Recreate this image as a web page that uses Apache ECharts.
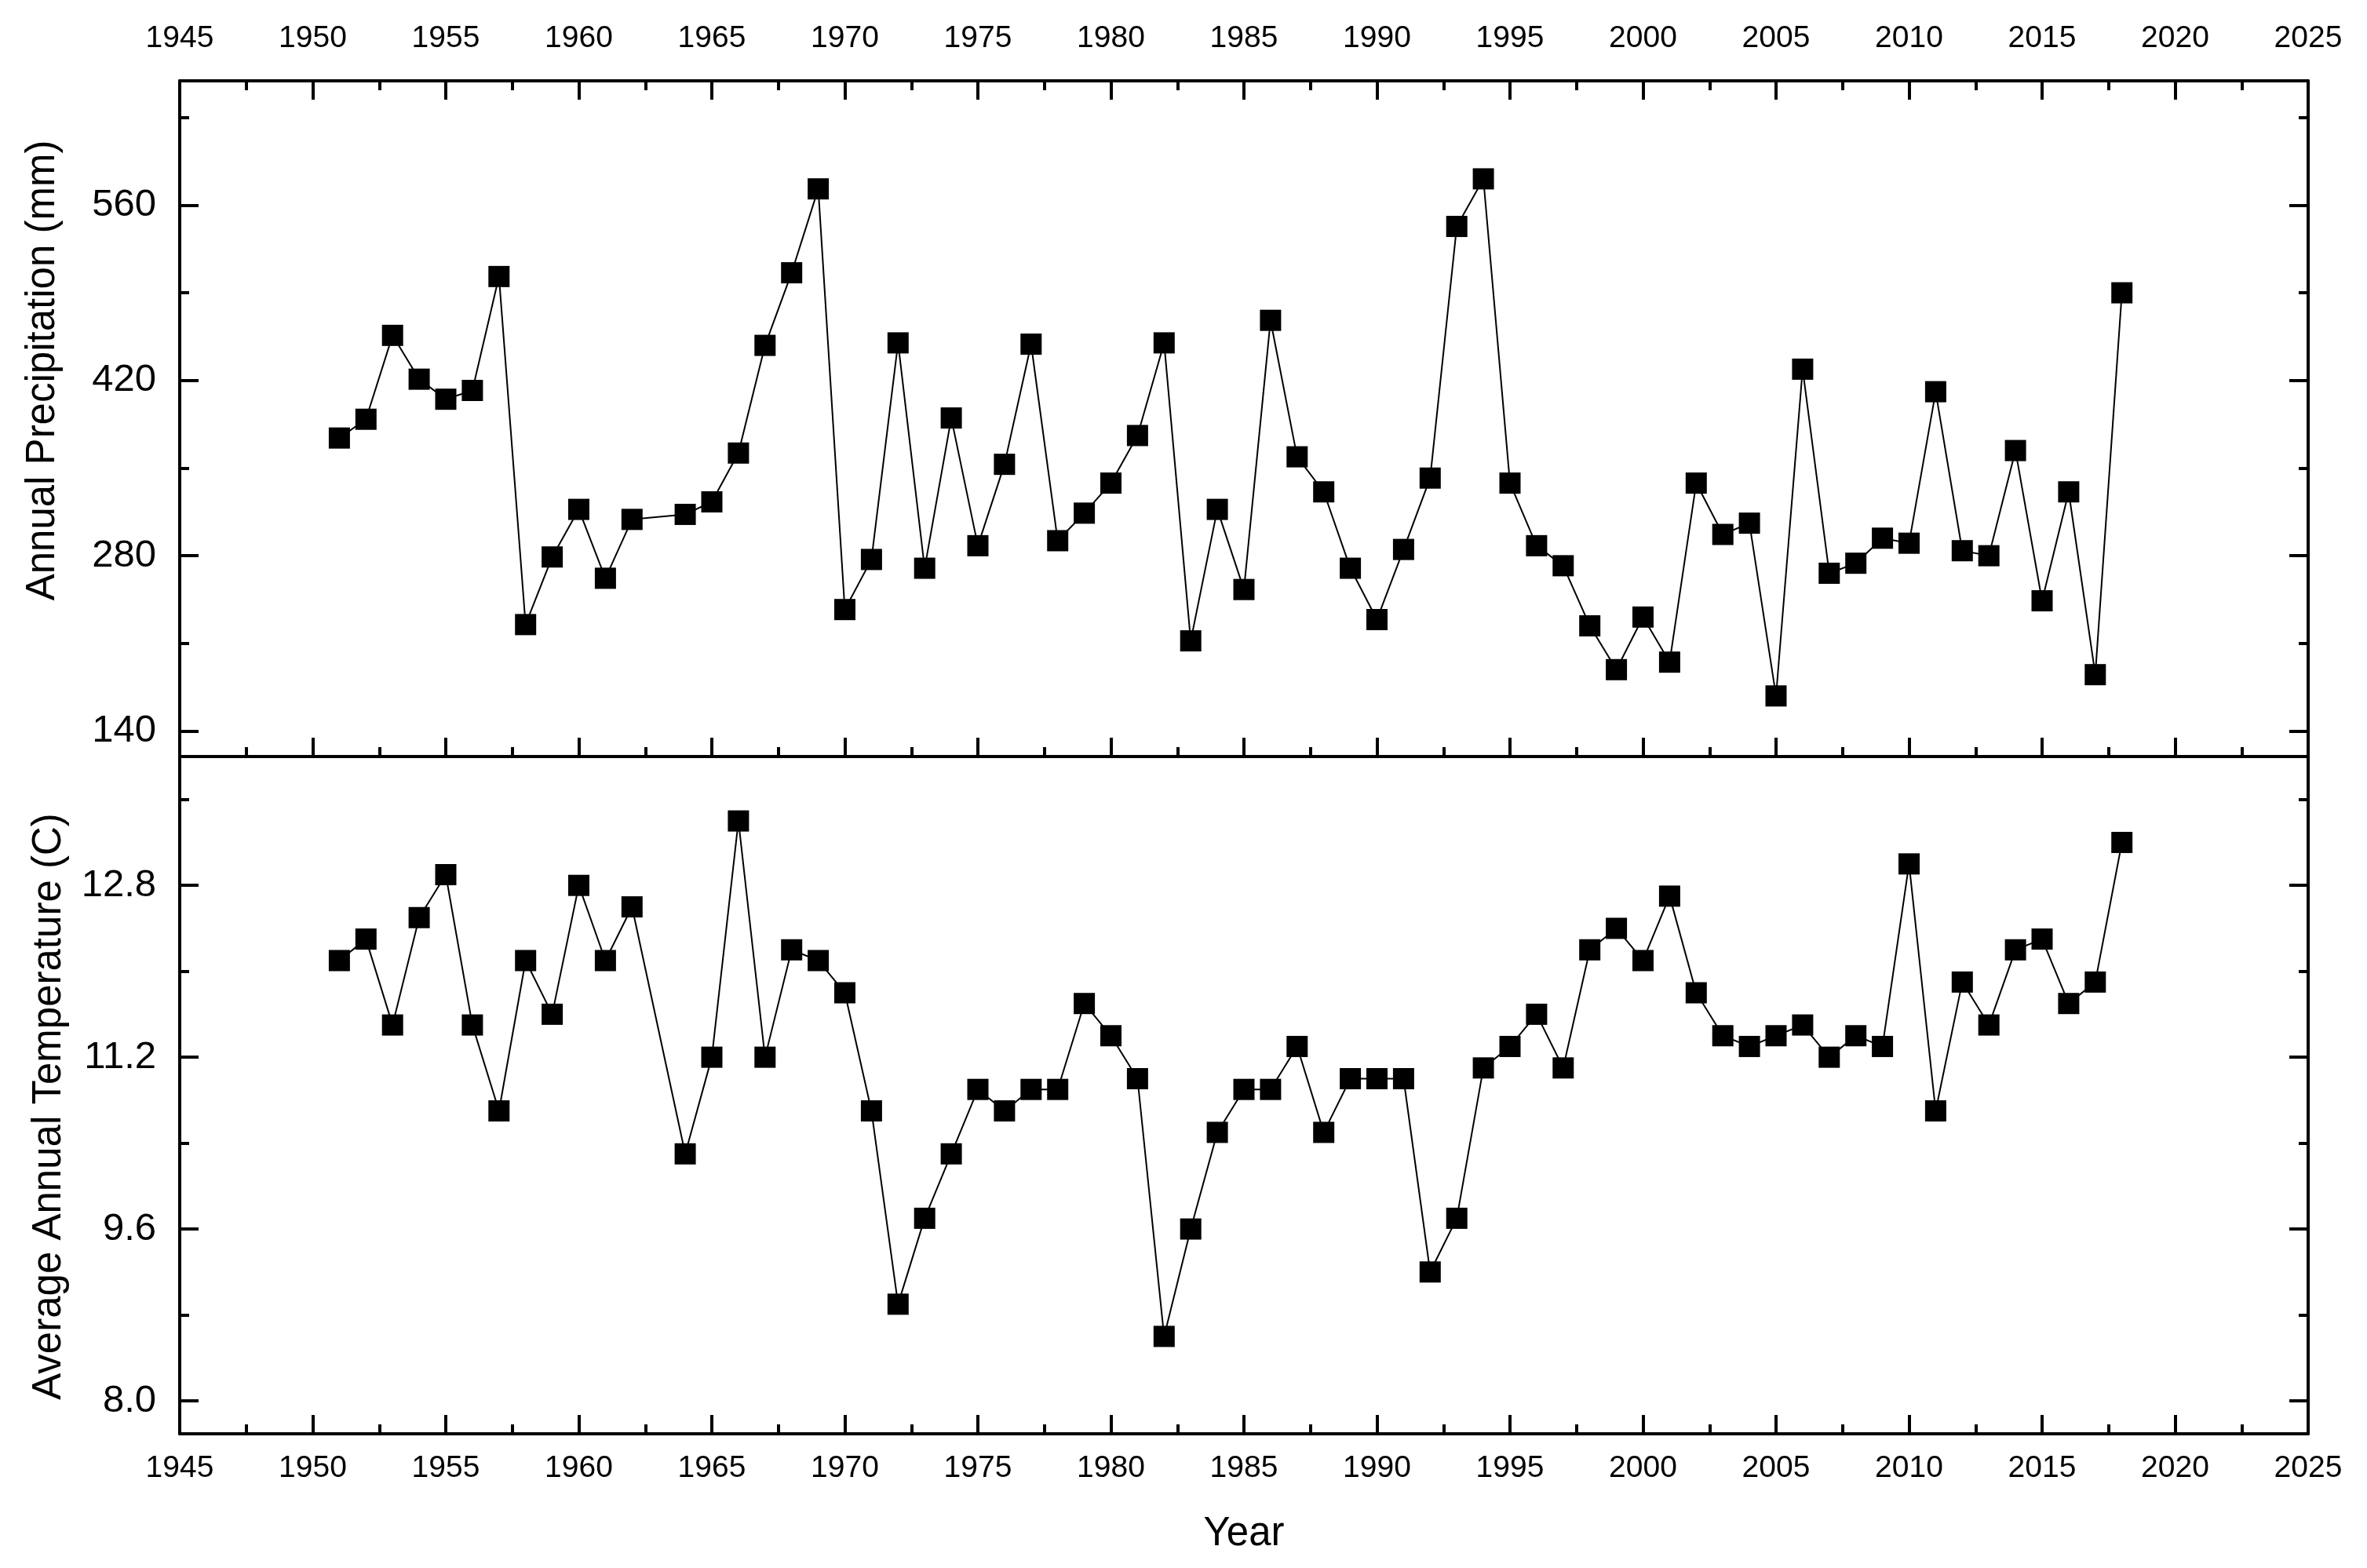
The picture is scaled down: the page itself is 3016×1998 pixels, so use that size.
<!DOCTYPE html>
<html>
<head>
<meta charset="utf-8">
<script src="https://cdn.jsdelivr.net/npm/echarts@6/dist/echarts.min.js"></script>
<style>
  html, body { margin: 0; padding: 0; background: #fff; }
  #chart { width: 3016px; height: 1998px; }
</style>
</head>
<body>
<div id="chart"></div>
<script>
// --- data (1963 has no record in either panel) ---
const years = [
  1951, 1952, 1953, 1954, 1955, 1956, 1957, 1958, 1959, 1960, 1961, 1962,
  1964, 1965, 1966, 1967, 1968, 1969, 1970, 1971, 1972, 1973, 1974, 1975,
  1976, 1977, 1978, 1979, 1980, 1981, 1982, 1983, 1984, 1985, 1986, 1987,
  1988, 1989, 1990, 1991, 1992, 1993, 1994, 1995, 1996, 1997, 1998, 1999,
  2000, 2001, 2002, 2003, 2004, 2005, 2006, 2007, 2008, 2009, 2010, 2011,
  2012, 2013, 2014, 2015, 2016, 2017, 2018
];
const precipitation = [
  374, 389, 456, 421, 405, 412, 503, 225, 279, 317, 262, 309,
  313, 323, 362, 448, 506, 573, 237, 277, 450, 270, 390, 288,
  353, 449, 292, 314, 338, 376, 450, 212, 317, 253, 468, 359,
  331, 270, 229, 285, 342, 543, 581, 338, 288, 272, 224, 189,
  231, 195, 338, 297, 306, 168, 429, 266, 274, 294, 290, 411,
  284, 280, 364, 244, 331, 185, 490
];
const temperature = [
  12.1, 12.3, 11.5, 12.5, 12.9, 11.5, 10.7, 12.1, 11.6, 12.8, 12.1, 12.6,
  10.3, 11.2, 13.4, 11.2, 12.2, 12.1, 11.8, 10.7, 8.9, 9.7, 10.3, 10.9,
  10.7, 10.9, 10.9, 11.7, 11.4, 11.0, 8.6, 9.6, 10.5, 10.9, 10.9, 11.3,
  10.5, 11.0, 11.0, 11.0, 9.2, 9.7, 11.1, 11.3, 11.6, 11.1, 12.2, 12.4,
  12.1, 12.7, 11.8, 11.4, 11.3, 11.4, 11.5, 11.2, 11.4, 11.3, 13.0, 10.7,
  11.9, 11.5, 12.2, 12.3, 11.7, 11.9, 13.2
];

// tick values
const precipMajor = [140, 280, 420, 560];
const precipMinor = [210, 350, 490, 630];
const tempMajor = [8.0, 9.6, 11.2, 12.8];
const tempMinor = [8.8, 10.4, 12.0, 13.6];

const FONT = "Liberation Sans";
const chart = echarts.init(document.getElementById("chart"));

// x axis helper (year axis, ticks inside, minor at half step)
function yearAxis(grid, pos, labels, extra) {
  return Object.assign({
    type: "value",
    gridIndex: grid,
    position: pos,
    min: 1945,
    max: 2025,
    interval: 5,
    axisLine: { show: true, onZero: false, lineStyle: { color: "#000", width: 4 } },
    axisTick: { show: true, inside: true, length: 24, lineStyle: { color: "#000", width: 4 } },
    minorTick: { show: true, splitNumber: 2, length: 12, lineStyle: { color: "#000", width: 4 } },
    splitLine: { show: false },
    axisLabel: {
      show: labels,
      formatter: v => String(v),
      fontFamily: FONT,
      fontSize: 39,
      color: "#000",
      margin: pos === "top" ? 34 : 25
    }
  }, extra || {});
}

// y axis helper: custom tick positions, major (with line) or minor overlay
function valAxis(grid, pos, min, max, ticks, len, showLine, showLabels, fmt) {
  return {
    type: "value",
    gridIndex: grid,
    position: pos,
    min: min,
    max: max,
    axisLine: { show: showLine, onZero: false, lineStyle: { color: "#000", width: 4 } },
    axisTick: { show: true, inside: true, length: len, customValues: ticks,
      lineStyle: { color: "#000", width: 4 } },
    splitLine: { show: false },
    axisLabel: {
      show: showLabels,
      customValues: ticks,
      formatter: fmt,
      fontFamily: FONT,
      fontSize: 49,
      color: "#000",
      margin: 30
    }
  };
}

const pMin = 119.6, pMax = 659.3;
const tMin = 7.693, tMax = 14.0;
const tFmt = v => v.toFixed(1);

const option = {
  animation: false,
  backgroundColor: "#fff",
  grid: [
    { left: 229, right: 75, top: 103, height: 861 },
    { left: 229, right: 75, top: 964, height: 863 }
  ],
  xAxis: [
    yearAxis(0, "bottom", false),
    yearAxis(0, "top", true),
    yearAxis(1, "bottom", true, {
      name: "Year",
      nameLocation: "middle",
      nameGap: 102,
      nameTextStyle: { fontFamily: FONT, fontSize: 51, color: "#000" }
    })
  ],
  yAxis: [
    valAxis(0, "left", pMin, pMax, precipMajor, 24, true, true),
    valAxis(0, "left", pMin, pMax, precipMinor, 12, false, false),
    valAxis(0, "right", pMin, pMax, precipMajor, 24, true, false),
    valAxis(0, "right", pMin, pMax, precipMinor, 12, false, false),
    valAxis(1, "left", tMin, tMax, tempMajor, 24, true, true, tFmt),
    valAxis(1, "left", tMin, tMax, tempMinor, 12, false, false),
    valAxis(1, "right", tMin, tMax, tempMajor, 24, true, false),
    valAxis(1, "right", tMin, tMax, tempMinor, 12, false, false)
  ],
  graphic: [
    {
      type: "text", x: 55, y: 472, rotation: Math.PI / 2,
      style: { text: "Annual Precipitation (mm)", font: '51px "Liberation Sans"',
        fill: "#000", textAlign: "center", textVerticalAlign: "middle" }
    },
    {
      type: "text", x: 63, y: 1410, rotation: Math.PI / 2,
      style: { text: "Average Annual Temperature (C)", font: '51px "Liberation Sans"',
        fill: "#000", textAlign: "center", textVerticalAlign: "middle" }
    }
  ],
  series: [
    {
      type: "line",
      xAxisIndex: 0,
      yAxisIndex: 0,
      data: years.map((y, i) => [y, precipitation[i]]),
      symbol: "rect",
      symbolSize: 27,
      itemStyle: { color: "#000" },
      lineStyle: { color: "#000", width: 2 }
    },
    {
      type: "line",
      xAxisIndex: 2,
      yAxisIndex: 4,
      data: years.map((y, i) => [y, temperature[i]]),
      symbol: "rect",
      symbolSize: 27,
      itemStyle: { color: "#000" },
      lineStyle: { color: "#000", width: 2 }
    }
  ]
};

chart.setOption(option);
</script>
</body>
</html>
